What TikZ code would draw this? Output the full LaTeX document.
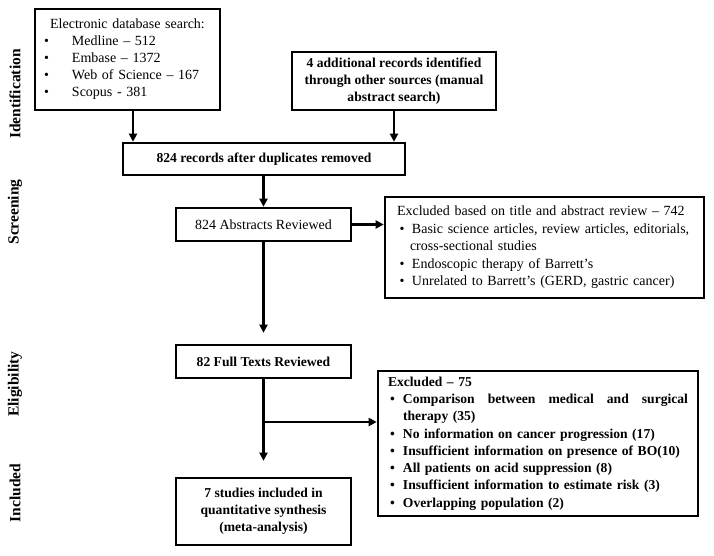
\documentclass[tikz,border=0pt]{standalone}
\usepackage{fontspec}
\setmainfont{Liberation Serif}
\usetikzlibrary{arrows.meta}
\newcommand{\bul}[2]{\hspace*{#1}\makebox[#2][l]{\textbullet}}
\begin{document}
\begin{tikzpicture}[x=1pt,y=-1pt,
  box/.style={draw, line width=2.6pt, inner sep=0pt, align=center},
  reg/.style={font=\fontsize{14}{17}\selectfont},
  bld/.style={font=\fontsize{13.6}{17}\selectfont\bfseries},
  lab/.style={font=\fontsize{15.5}{17}\selectfont\bfseries, rotate=90, inner sep=0pt},
  arr/.style={line width=2.2pt, -{Triangle[length=8pt,width=8pt]}}]
\useasboundingbox (0,0) rectangle (714,555);
\fill[white] (0,0) rectangle (714,555);

% phase labels
\node[lab] (lid) at (15,94) {Identification};
\node[lab] (lsc) at (15,212) {Screening};
\node[lab] (lel) at (15,384) {Eligibility};
\node[lab] (lin) at (15,493) {Included};

% boxes
\node[box, reg, align=left, text width=185pt, minimum height=101pt] (db) at (127.5,59.5)
 {\makebox[185pt]{Electronic database search:}\\
  \bul{9pt}{28pt}Medline -- 512\\
  \bul{9pt}{28pt}Embase -- 1372\\
  \bul{9pt}{28pt}Web of Science -- 167\\
  \bul{9pt}{28pt}Scopus - 381};

\node[box, bld, minimum width=204pt, minimum height=58pt] (other) at (394,81)
 {4 additional records identified\\ through other sources (manual\\ abstract search)};

\node[box, bld, minimum width=282pt, minimum height=32pt] (dup) at (264,159)
 {824 records after duplicates removed};

\node[box, reg, minimum width=175pt, minimum height=33pt] (abs) at (263.5,224.5)
 {824 Abstracts Reviewed};

\node[box, font=\fontsize{14}{17.5}\selectfont, align=left, text width=319pt, minimum height=101pt] (ex1) at (544.5,247.5)
 {\hspace*{12pt}Excluded based on title and abstract review -- 742\\
  \bul{14.5pt}{12.5pt}Basic science articles, review articles, editorials,\\
  \hspace*{25pt}cross-sectional studies\\
  \bul{14.5pt}{12.5pt}Endoscopic therapy of Barrett's\\
  \bul{14.5pt}{12.5pt}Unrelated to Barrett's (GERD, gastric cancer)};

\node[box, bld, minimum width=175pt, minimum height=33pt] (full) at (263.5,361.5)
 {82 Full Texts Reviewed};

\node[box, font=\fontsize{13.6}{17.3}\selectfont\bfseries, align=left, text width=320pt, minimum height=145pt] (ex2) at (538,443.5)
 {\hspace*{10pt}Excluded -- 75\\
  \bul{12pt}{13pt}\hbox to 285pt{Comparison\hfill between\hfill medical\hfill and\hfill surgical}\\
  \hspace*{25pt}therapy (35)\\
  \bul{12pt}{13pt}No information on cancer progression (17)\\
  \bul{12pt}{13pt}Insufficient information on presence of BO(10)\\
  \bul{12pt}{13pt}All patients on acid suppression (8)\\
  \bul{12pt}{13pt}Insufficient information to estimate risk (3)\\
  \bul{12pt}{13pt}Overlapping population (2)};

\node[box, bld, minimum width=175pt, minimum height=67pt] (inc) at (263.5,511.5)
 {7 studies included in\\ quantitative synthesis\\ (meta-analysis)};

% connectors
\draw[arr] ([xshift=5.5pt]db.south) -- ([xshift=5.5pt]db.south |- dup.north);
\draw[arr] (other.south) -- (other.south |- dup.north);
\draw[arr] (dup.south -| abs.north) -- (abs.north);
\draw[arr] (abs.east) -- (abs.east -| ex1.west);
\draw[arr] (abs.south) -- ([yshift=11pt]full.north);
\draw[arr] (full.south) -- ([yshift=16pt]inc.north);
\coordinate (br) at (263.5,422);
\draw[arr] (br) -- (br -| ex2.west);
\end{tikzpicture}
\end{document}
